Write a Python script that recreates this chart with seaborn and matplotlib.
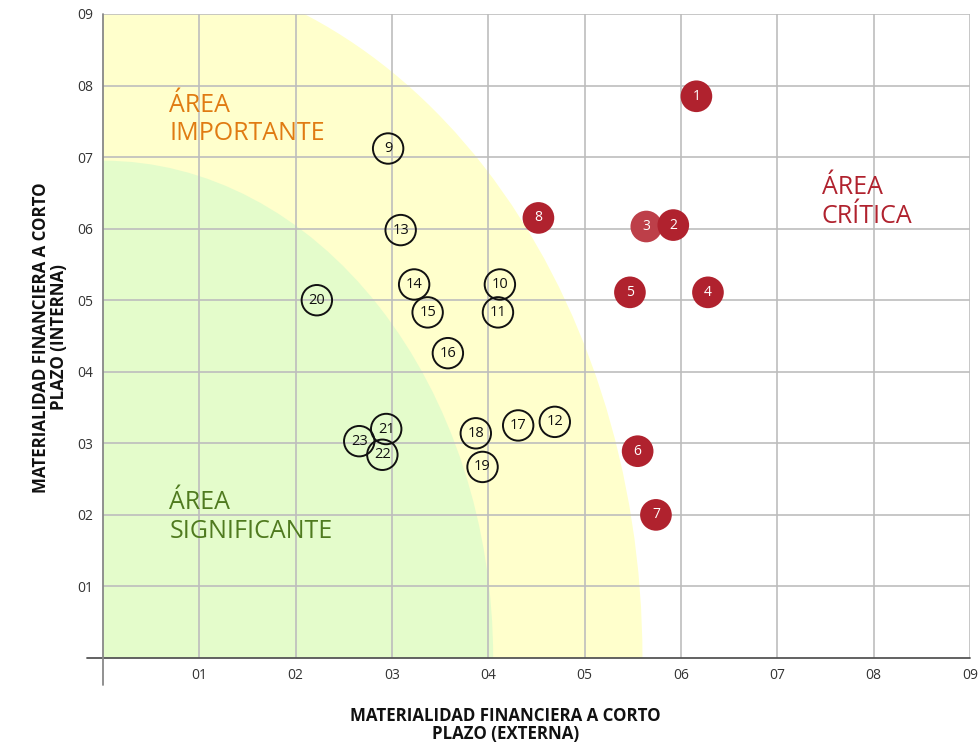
import matplotlib
matplotlib.use("Agg")
import matplotlib.pyplot as plt
from matplotlib.patches import Ellipse
import seaborn as sns
import pandas as pd

# temas criticos (rojo) y resto (circulo abierto)
crit_ids = ["3", "1", "2", "4", "5", "6", "7", "8"]
crit_x = [5.64, 6.16, 5.92, 6.28, 5.47, 5.55, 5.74, 4.52]
crit_y = [6.03, 7.85, 6.05, 5.11, 5.11, 2.89, 2.00, 6.15]
crit_tono = ["claro", "oscuro", "oscuro", "oscuro", "oscuro", "oscuro", "oscuro", "oscuro"]

otros_ids = ["9", "10", "11", "12", "13", "14", "15", "16", "17", "18", "19", "20", "23", "21", "22"]
otros_x = [2.96, 4.12, 4.10, 4.69, 3.09, 3.23, 3.37, 3.58, 4.31, 3.87, 3.94, 2.22, 2.66, 2.94, 2.90]
otros_y = [7.12, 5.22, 4.83, 3.30, 5.98, 5.22, 4.83, 4.26, 3.25, 3.14, 2.67, 5.00, 3.03, 3.20, 2.84]

tick_vals = [1, 2, 3, 4, 5, 6, 7, 8, 9]
tick_labels = ["01", "02", "03", "04", "05", "06", "07", "08", "09"]

# semiejes de las zonas (x, y)
zona_importante = (5.6, 9.7)
zona_significante = (4.05, 6.95)

sns.set_style("white")
plt.rcParams["font.family"] = ["Open Sans", "DejaVu Sans"]

df_crit = pd.DataFrame({"id": crit_ids, "x": crit_x, "y": crit_y, "tono": crit_tono})
df_otros = pd.DataFrame({"id": otros_ids, "x": otros_x, "y": otros_y})

fig = plt.figure(figsize=(9.79, 7.44), dpi=100)
ax = fig.add_axes([0.1052, 0.1156, 0.8856, 0.8656])
ax.set_xlim(0, 9)
ax.set_ylim(0, 9)

ax.add_patch(Ellipse((0, 0), 2 * zona_importante[0], 2 * zona_importante[1],
                     facecolor="#ffffcc", edgecolor="none", zorder=0))
ax.add_patch(Ellipse((0, 0), 2 * zona_significante[0], 2 * zona_significante[1],
                     facecolor="#e4fccb", edgecolor="none", zorder=0))

ax.set_xticks(tick_vals)
ax.set_xticklabels(tick_labels)
ax.set_yticks(tick_vals)
ax.set_yticklabels(tick_labels)
ax.grid(True, color="#bdbdbd", linewidth=1.2, zorder=1)
ax.set_axisbelow(True)
ax.tick_params(length=0, labelsize=10, colors="#333333", pad=7)
for s in ax.spines.values():
    s.set_visible(False)
ax.plot([-0.17, 9], [0, 0], color="#555555", lw=1.3, clip_on=False, zorder=2)
ax.plot([0, 0], [-0.38, 9], color="#888888", lw=1.3, clip_on=False, zorder=2)

sns.scatterplot(data=df_crit, x="x", y="y", hue="tono",
                palette={"claro": "#bd3f49", "oscuro": "#b0222e"},
                s=520, edgecolor="none", legend=False, ax=ax, zorder=3)
sns.scatterplot(data=df_otros, x="x", y="y", s=480, facecolor="none",
                edgecolor="#111111", linewidth=1.4, legend=False, ax=ax, zorder=3)

for _, r in df_crit.iterrows():
    ax.text(r["x"], r["y"], r["id"], color="white", fontsize=10,
            ha="center", va="center", zorder=4)
for _, r in df_otros.iterrows():
    ax.text(r["x"], r["y"], r["id"], color="#111111", fontsize=10.5,
            ha="center", va="center", zorder=4)

ax.text(0.69, 7.9, "ÁREA\nIMPORTANTE", color="#e07b12", fontsize=18,
        ha="left", va="top", linespacing=1.2)
ax.text(7.46, 6.75, "ÁREA\nCRÍTICA", color="#b0222e", fontsize=18,
        ha="left", va="top", linespacing=1.2)
ax.text(0.69, 2.35, "ÁREA\nSIGNIFICANTE", color="#4f7a1f", fontsize=18,
        ha="left", va="top", linespacing=1.2)

ax.set_xlabel("MATERIALIDAD FINANCIERA A CORTO\nPLAZO (EXTERNA)", fontsize=12.2,
              fontweight="bold", color="#111111", linespacing=1.05)
ax.set_ylabel("MATERIALIDAD FINANCIERA A CORTO\nPLAZO (INTERNA)", fontsize=12.2,
              fontweight="bold", color="#111111", linespacing=1.05)
ax.xaxis.set_label_coords(0.464, -0.104)
ax.yaxis.set_label_coords(-0.061, 0.498)
ax.xaxis.label.set_va("center")
ax.yaxis.label.set_va("center")

fig.savefig("out.png", dpi=100)
